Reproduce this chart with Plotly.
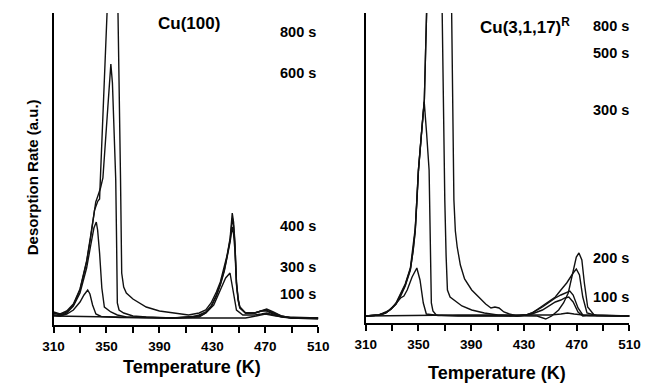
import plotly.graph_objects as go

# ---------------- DATA ----------------
# Left panel: Cu(100)
cu100_100s_T = [310, 330, 350, 370, 400, 430, 455, 463, 470, 478, 490, 510]
cu100_100s_r = [2, 1.5, 1, 0.5, 0, 0, 0, 2, 4, 2, 0, -1]

cu100_300s_T = [310, 315, 320, 325, 330, 333, 335.8, 337.5, 339.5, 342, 346, 360, 400, 420, 425,
                431, 436, 440, 443.3, 445.8, 448.2, 453, 462, 467, 471, 476, 485, 510]
cu100_300s_r = [3, 2, 4, 8, 16, 23, 28, 24, 13, 4, 1.5, 0.5, 0, 1, 5,
                13, 28, 40, 45, 28, 8, 3, 3, 4, 5, 3, 1, 0]

cu100_400s_T = [310, 315, 320, 325, 330, 335, 338, 340.5, 342.3, 343.3, 344.8, 346.5, 348.4, 353.3,
                358.2, 365, 400, 415, 420, 425, 429, 433, 436, 439, 441, 443.4, 445, 446, 447,
                448.2, 449.5, 450.7, 455, 462, 467, 471, 476, 482, 490, 510]
cu100_400s_r = [3, 2, 5, 12, 25, 50, 72, 90, 96, 88, 65, 30, 11, 6,
                3, 1, 0, 1, 2, 5, 11, 22, 33, 47, 60, 76, 91, 84, 68,
                33, 17, 10, 5, 5, 7, 7, 4, 1, 0, 0]

cu100_600s_T = [310, 315, 320, 325, 330, 335, 338, 341.9, 343.5, 345.5, 347.3, 349, 350.5, 352,
                353.3, 354.5, 355.5, 357, 357.6, 358.2, 359.5, 363, 370, 380, 400, 415, 420,
                425, 429, 433, 436, 439, 441, 443.4, 445.1, 446, 447, 448.2, 449.5, 450.7, 455,
                462, 467, 470.5, 476, 482, 490, 510]
cu100_600s_r = [5, 3, 6, 13, 28, 56, 80, 116, 122, 130, 140, 172, 200, 230,
                254, 235, 200, 138, 80, 15, 8, 5, 2, 1, 0, 1, 3,
                6, 12, 23, 34, 48, 61, 78, 100, 92, 74, 35, 18, 11, 5,
                5, 7, 8, 5, 2, 0, 0]

cu100_800s_T = [310, 315, 320, 325, 330, 335, 338, 341, 343.5, 344.8, 345.5, 347.5, 349, 350.4,
                351.5, 357.5, 358.7, 360.6, 361.5, 363, 365, 370, 375, 380, 390, 400, 412, 420,
                425, 429, 433, 436, 439, 441, 443.4, 445, 446, 447, 448.2, 449.5, 450.7, 455,
                462, 467, 471, 476, 482, 490, 510]
cu100_800s_r = [6, 4, 7, 14, 29, 57, 82, 108, 117, 119, 143, 209, 258, 305,
                340, 340, 305, 140, 45, 31, 25, 19, 15, 11, 7, 5, 3, 5,
                8, 15, 26, 36, 50, 62, 80, 105, 96, 76, 36, 19, 11, 5,
                5, 7, 9, 6, 2, 0, 0]

# Right panel: Cu(3,1,17)^R
cu3117_100s_T = [310, 340, 380, 420, 450, 458, 463, 468, 475, 490, 510]
cu3117_100s_r = [0, 0.5, 1, 1, 1, 2, 3, 2, 1, 0.5, 0]

cu3117_200s_T = [310, 320, 327, 332, 336.5, 339, 341.5, 345.2, 348.8, 351.2, 353.7, 356, 365, 400,
                 425, 440, 446.5, 451, 456.3, 460, 463.6, 467.3, 469.7, 471.7, 473.9, 475.8,
                 478.3, 483.2, 495, 510]
cu3117_200s_r = [0, 1, 5, 11, 18, 20, 26, 39, 48, 36, 13, 2, 0.5, 0,
                 0, 0, -3, 0, 6, 13, 23, 43, 59, 63, 56, 33,
                 9, 1, 0.5, 0]

cu3117_300s_T = [310, 320, 325, 329.3, 333, 336.6, 340, 343.9, 346, 347.6, 348.8, 350, 352.5, 354.4,
                 356.2, 358.1, 359, 359.8, 361, 363.5, 380, 420, 431.8, 436, 441.7, 447, 453.8,
                 458, 462.4, 467.3, 469.7, 472.1, 474.6, 477.8, 485, 510]
cu3117_300s_r = [0, 1, 3, 7, 13, 22, 32, 48, 68, 88, 116, 146, 185, 214,
                 183, 146, 75, 13, 5, 1, 0, 0, 1, 3, 8, 13, 19,
                 26, 33, 43, 47, 41, 19, 3, 0.5, 0]

cu3117_500s_T = [310, 320, 325, 329.3, 333, 336.6, 340, 343.9, 346, 347.6, 348.8, 350, 352.5, 354.5,
                 356.2, 357, 367.2, 367.9, 370, 371, 372, 374, 376.9, 383, 390.4, 400, 410, 425,
                 431.8, 436, 444, 449, 453.8, 458, 461, 464.8, 467.3, 471, 474.6, 480, 510]
cu3117_500s_r = [0, 1, 3, 7, 12, 21, 31, 47, 66, 86, 114, 146, 186, 217,
                 303, 380, 380, 303, 116, 60, 26, 19, 16, 10, 6, 3, 1, 0,
                 1, 3, 9, 14, 18, 21, 23, 25, 21, 8, 1, 0.5, 0]

cu3117_800s_T = [310, 320, 325, 329.3, 333, 336.6, 340, 343.9, 346, 347.6, 348.8, 350, 352.5, 354.5,
                 356.2, 357, 374.5, 375.2, 376.9, 378, 379.4, 381.8, 385, 390.4, 396.4, 401, 405,
                 408, 411.1, 414.8, 419, 424.5, 431.8, 436, 444, 449, 453.8, 458, 461, 464, 467.3,
                 471, 474.6, 480, 510]
cu3117_800s_r = [0, 1, 3, 7, 12, 20, 30, 46, 65, 85, 113, 144, 185, 216,
                 303, 380, 380, 303, 116, 85, 69, 51, 37, 26, 18, 12, 8,
                 9, 8, 4, 2, 0, 1, 2, 6, 10, 14, 16, 18, 19, 14,
                 4, 0, 0.5, 0]

x_ticks = [310, 350, 390, 430, 470, 510]

left_series = [("100 s", cu100_100s_T, cu100_100s_r), ("300 s", cu100_300s_T, cu100_300s_r),
               ("400 s", cu100_400s_T, cu100_400s_r), ("600 s", cu100_600s_T, cu100_600s_r),
               ("800 s", cu100_800s_T, cu100_800s_r)]
right_series = [("100 s", cu3117_100s_T, cu3117_100s_r), ("200 s", cu3117_200s_T, cu3117_200s_r),
                ("300 s", cu3117_300s_T, cu3117_300s_r), ("500 s", cu3117_500s_T, cu3117_500s_r),
                ("800 s", cu3117_800s_T, cu3117_800s_r)]

# ---------------- FIGURE ----------------
W, H = 654, 383
FONT = "Liberation Sans, Arial, sans-serif"

def px(x, y):
    return x / W, 1 - y / H

fig = go.Figure()
for name, T, r in left_series:
    fig.add_trace(go.Scatter(x=T, y=r, mode="lines", name=name, xaxis="x", yaxis="y",
                             line=dict(color="#111111", width=1.4), showlegend=False))
for name, T, r in right_series:
    fig.add_trace(go.Scatter(x=T, y=r, mode="lines", name=name, xaxis="x2", yaxis="y2",
                             line=dict(color="#111111", width=1.4), showlegend=False))

def xaxis_cfg(x0, x1):
    return dict(domain=[x0 / W, x1 / W], range=[310, 510], tickmode="array", tickvals=x_ticks,
                ticks="outside", ticklen=6, tickwidth=1.5, tickcolor="black",
                minor=dict(tick0=310, dtick=20, ticks="outside", ticklen=6, tickwidth=1.5,
                           tickcolor="black", showgrid=False),
                showline=True, linewidth=1.6, linecolor="black", showgrid=False, zeroline=False,
                tickfont=dict(family=FONT, size=13.5, color="black", weight="bold"),
                ticklabelstandoff=2, fixedrange=True)

def yaxis_cfg(ybot, ytop, rng):
    return dict(domain=[1 - ybot / H, 1 - ytop / H], range=rng, showline=True, linewidth=2,
                linecolor="black", showticklabels=False, ticks="", showgrid=False,
                zeroline=False, fixedrange=True)

fig.update_layout(
    width=W, height=H, margin=dict(l=0, r=0, t=0, b=0),
    paper_bgcolor="white", plot_bgcolor="white",
    xaxis=dict(anchor="y", **xaxis_cfg(44, 318)),
    yaxis=dict(anchor="x", **yaxis_cfg(325, 13, [-7, 305])),
    xaxis2=dict(anchor="y2", **xaxis_cfg(367, 640)),
    yaxis2=dict(anchor="x2", **yaxis_cfg(323, 13, [-7, 303])),
)

def ann(text, x, y, size, xanchor="center", angle=0):
    fx, fy = px(x, y)
    fig.add_annotation(text=text, x=fx, y=fy, xref="paper", yref="paper", showarrow=False,
                       xanchor=xanchor, yanchor="middle", textangle=angle,
                       font=dict(family=FONT, size=size, color="black", weight="bold"))

ann("Cu(100)", 184, 24, 17)
ann("Cu(3,1,17)<sup>R</sup>", 532, 26, 17)
ann("Desorption Rate (a.u.)", 22, 177, 15, angle=-90)
ann("Temperature (K)", 187, 367, 18)
ann("Temperature (K)", 503, 373, 18)

for lab, y in [("800 s", 32), ("600 s", 72.5), ("400 s", 226), ("300 s", 267), ("100 s", 294)]:
    ann(lab, 276, y, 14.5, xanchor="left")
for lab, y in [("800 s", 26), ("500 s", 53), ("300 s", 110), ("200 s", 258), ("100 s", 297)]:
    ann(lab, 600, y, 14.5, xanchor="left")

fig.write_html("out.html", config={"displayModeBar": False},
               post_script="document.body.style.margin='0';document.body.style.overflow='hidden';")
